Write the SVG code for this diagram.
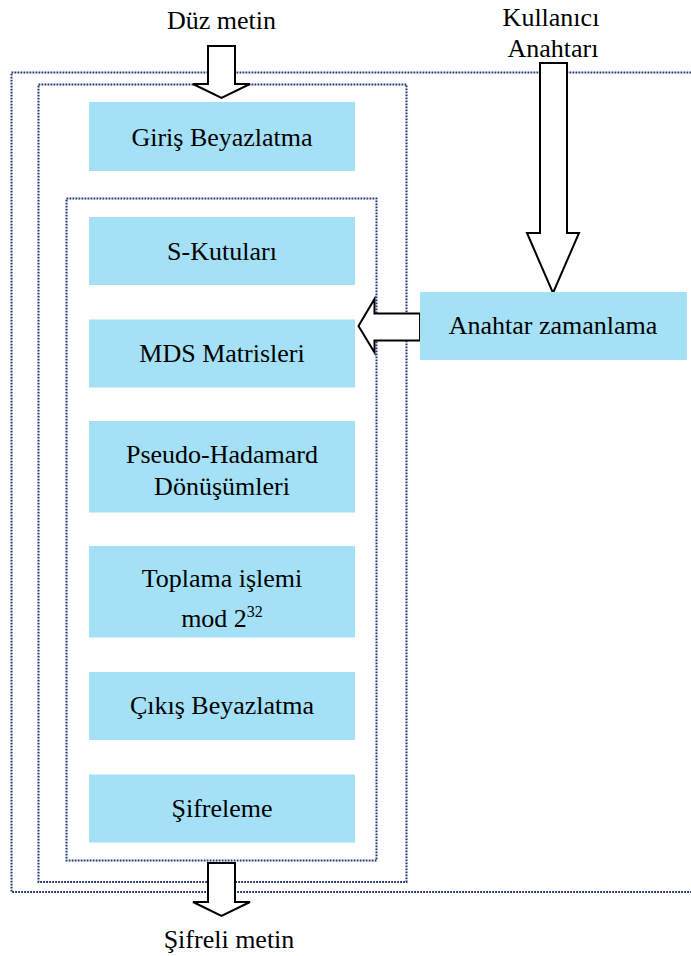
<svg xmlns="http://www.w3.org/2000/svg" width="691" height="956" viewBox="0 0 691 956">
  <style>
    .bg { fill: #ffffff; }
    .frame { fill: none; stroke: #1f3470; stroke-width: 2; stroke-dasharray: 1.8 1.2; }
    .box { fill: #a4e0f6; }
    .arrow { fill: #ffffff; stroke: #000000; stroke-width: 2; stroke-linejoin: miter; }
    .lbl { font-size: 26px; fill: #000000; text-anchor: middle; }
    .sup { font-size: 16px; }
  </style>
  <rect class="bg" x="0" y="0" width="691" height="956"/>

  <!-- nested dotted frames -->
  <g id="frames">
    <rect class="frame" x="11.5" y="72.5" width="700" height="819.5"/>
    <rect class="frame" x="38.5" y="84.5" width="368" height="797.5"/>
    <rect class="frame" x="66.5" y="198.5" width="310" height="662"/>
  </g>

  <!-- block arrows -->
  <g id="connectors">
    <polygon class="arrow" points="208,46 235,46 235,84 250,84 221.5,98 193,84 208,84"/>
    <polygon class="arrow" points="540,63 567,63 567,233 579,233 553,293 527,233 540,233"/>
    <polygon class="arrow" points="420,313.5 374.5,313.5 374.5,299 358.5,326 374.5,352.5 374.5,340.5 420,340.5"/>
    <polygon class="arrow" points="208,863 235,863 235,902 250,902 221.5,916 193,902 208,902"/>
  </g>

  <g font-family="Liberation Serif, Times New Roman, DejaVu Serif, Noto Serif, serif">
  <g id="plaintext"><text class="lbl" x="221.5" y="29">Düz metin</text></g>
  <g id="userkey">
    <text class="lbl" x="551" y="26">Kullanıcı</text>
    <text class="lbl" x="553" y="57">Anahtarı</text>
  </g>
  <g id="ciphertext"><text class="lbl" x="229" y="948">Şifreli metin</text></g>

  <g id="input-whitening">
    <rect class="box" x="89" y="102" width="266" height="69"/>
    <text class="lbl" x="222" y="146">Giriş Beyazlatma</text>
  </g>
  <g id="sboxes">
    <rect class="box" x="89" y="217" width="266" height="68"/>
    <text class="lbl" x="222" y="260">S-Kutuları</text>
  </g>
  <g id="mds">
    <rect class="box" x="89" y="319.5" width="266" height="68"/>
    <text class="lbl" x="222" y="362">MDS Matrisleri</text>
  </g>
  <g id="pht">
    <rect class="box" x="89" y="421" width="266" height="91.5"/>
    <text class="lbl" x="222" y="463">Pseudo-Hadamard</text>
    <text class="lbl" x="222" y="494.5">Dönüşümleri</text>
  </g>
  <g id="addition">
    <rect class="box" x="89" y="546" width="266" height="91.5"/>
    <text class="lbl" x="222" y="587">Toplama işlemi</text>
    <text class="lbl" x="222" y="626.5">mod 2<tspan class="sup" dy="-10">32</tspan></text>
  </g>
  <g id="output-whitening">
    <rect class="box" x="89" y="672" width="266" height="68"/>
    <text class="lbl" x="222" y="714">Çıkış Beyazlatma</text>
  </g>
  <g id="encryption">
    <rect class="box" x="89" y="774.5" width="266" height="68"/>
    <text class="lbl" x="222" y="816.5">Şifreleme</text>
  </g>
  <g id="key-schedule">
    <rect class="box" x="420" y="292" width="267" height="68"/>
    <text class="lbl" x="553" y="334">Anahtar zamanlama</text>
  </g>
  </g>
</svg>
